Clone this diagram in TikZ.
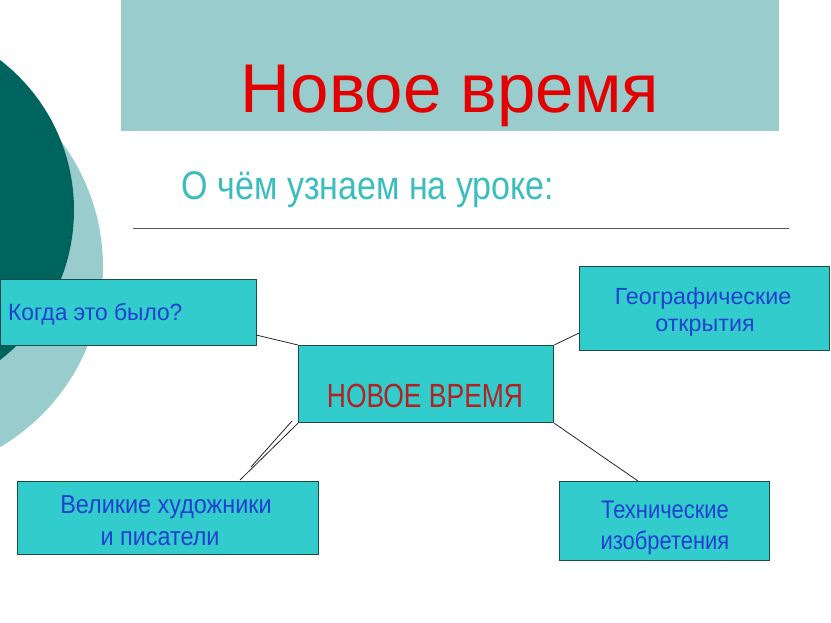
\documentclass[tikz,border=0pt]{standalone}
\usepackage{fontspec}
\setmainfont{Liberation Sans}
\definecolor{banner}{HTML}{99CCCC}
\definecolor{darkcirc}{HTML}{00645E}
\definecolor{lightcirc}{HTML}{99CCCC}
\definecolor{boxfill}{HTML}{33CCCC}
\definecolor{boxline}{HTML}{1E4A4A}
\definecolor{boxtext}{HTML}{2040D0}
\definecolor{centertext}{HTML}{B22222}
\definecolor{titlered}{HTML}{E30000}
\definecolor{subteal}{HTML}{3BBDBD}
\tikzset{
  topicbox/.style={draw=boxline,line width=1.2pt,fill=boxfill,rectangle,inner sep=0pt},
  boxlabel/.style={text=boxtext,anchor=base,inner sep=0pt,transform shape},
  link/.style={draw=black!85,line width=0.8pt}
}
\newcommand{\fs}[1]{\fontsize{#1}{#1}\selectfont}
\begin{document}
\begin{tikzpicture}[x=1pt,y=-1pt]
\useasboundingbox (0,0) rectangle (831,623);
\begin{scope}
\clip (0,0) rectangle (831,623);
\fill[lightcirc] (-106,267) circle[radius=209];
\fill[darkcirc] (-115,210) circle[radius=189];
\end{scope}
% banner
\fill[banner] (121,0) rectangle (779,131);
\node[anchor=base,inner sep=0pt,text=titlered] (title) at (450,113) {\fs{69}Новое время};
\node[anchor=base,inner sep=0pt,text=subteal,xscale=0.85,transform shape] (subtitle) at (368,200) {\fs{40}О чём узнаем на уроке:};
\coordinate (rulea) at (133,229);
\coordinate (ruleb) at (789,229);
\draw[black!65,line width=1pt] (rulea) -- (ruleb);
% boxes
\node[topicbox,minimum width=256pt,minimum height=66pt,anchor=north west] (when) at (0,279) {};
\node[topicbox,minimum width=250pt,minimum height=84pt,anchor=north west] (geo) at (579,266) {};
\node[topicbox,minimum width=255pt,minimum height=77pt,anchor=north west] (center) at (298,345) {};
\node[topicbox,minimum width=301pt,minimum height=73pt,anchor=north west] (art) at (17,481) {};
\node[topicbox,minimum width=210pt,minimum height=79pt,anchor=north west] (tech) at (559,481) {};
% labels
\node[boxlabel,anchor=base west,xscale=0.97] (whenl) at (8,320) {\fs{23.5}Когда это было?};
\node[boxlabel] (geol1) at (703,304) {\fs{23.3}Географические};
\node[boxlabel] (geol2) at (705,331) {\fs{23.3}открытия};
\node[boxlabel,text=centertext,xscale=0.79] (centerl) at (425,407) {\fs{33.5}НОВОЕ ВРЕМЯ};
\node[boxlabel,xscale=0.9] (artl1) at (166,513) {\fs{26}Великие художники};
\node[boxlabel,xscale=0.9] (artl2) at (160,545) {\fs{26}и писатели};
\node[boxlabel,xscale=0.86] (techl1) at (665,518) {\fs{25.5}Технические};
\node[boxlabel,xscale=0.86] (techl2) at (665,549) {\fs{25.5}изобретения};
% connectors
\coordinate (whenend) at (256,335);
\coordinate (geoend) at (579,333);
\coordinate (techend) at (638,481);
\coordinate (artend) at (240,480);
\coordinate (artend2) at (251,467);
\coordinate (cbl2) at (292,421);
\draw[link] (whenend) -- (center.north west);
\draw[link] (geoend) -- (center.north east);
\draw[link] (center.south east) -- (techend);
\draw[link] (center.south west) -- (artend);
\draw[link] (cbl2) -- (artend2);
\end{tikzpicture}
\end{document}
